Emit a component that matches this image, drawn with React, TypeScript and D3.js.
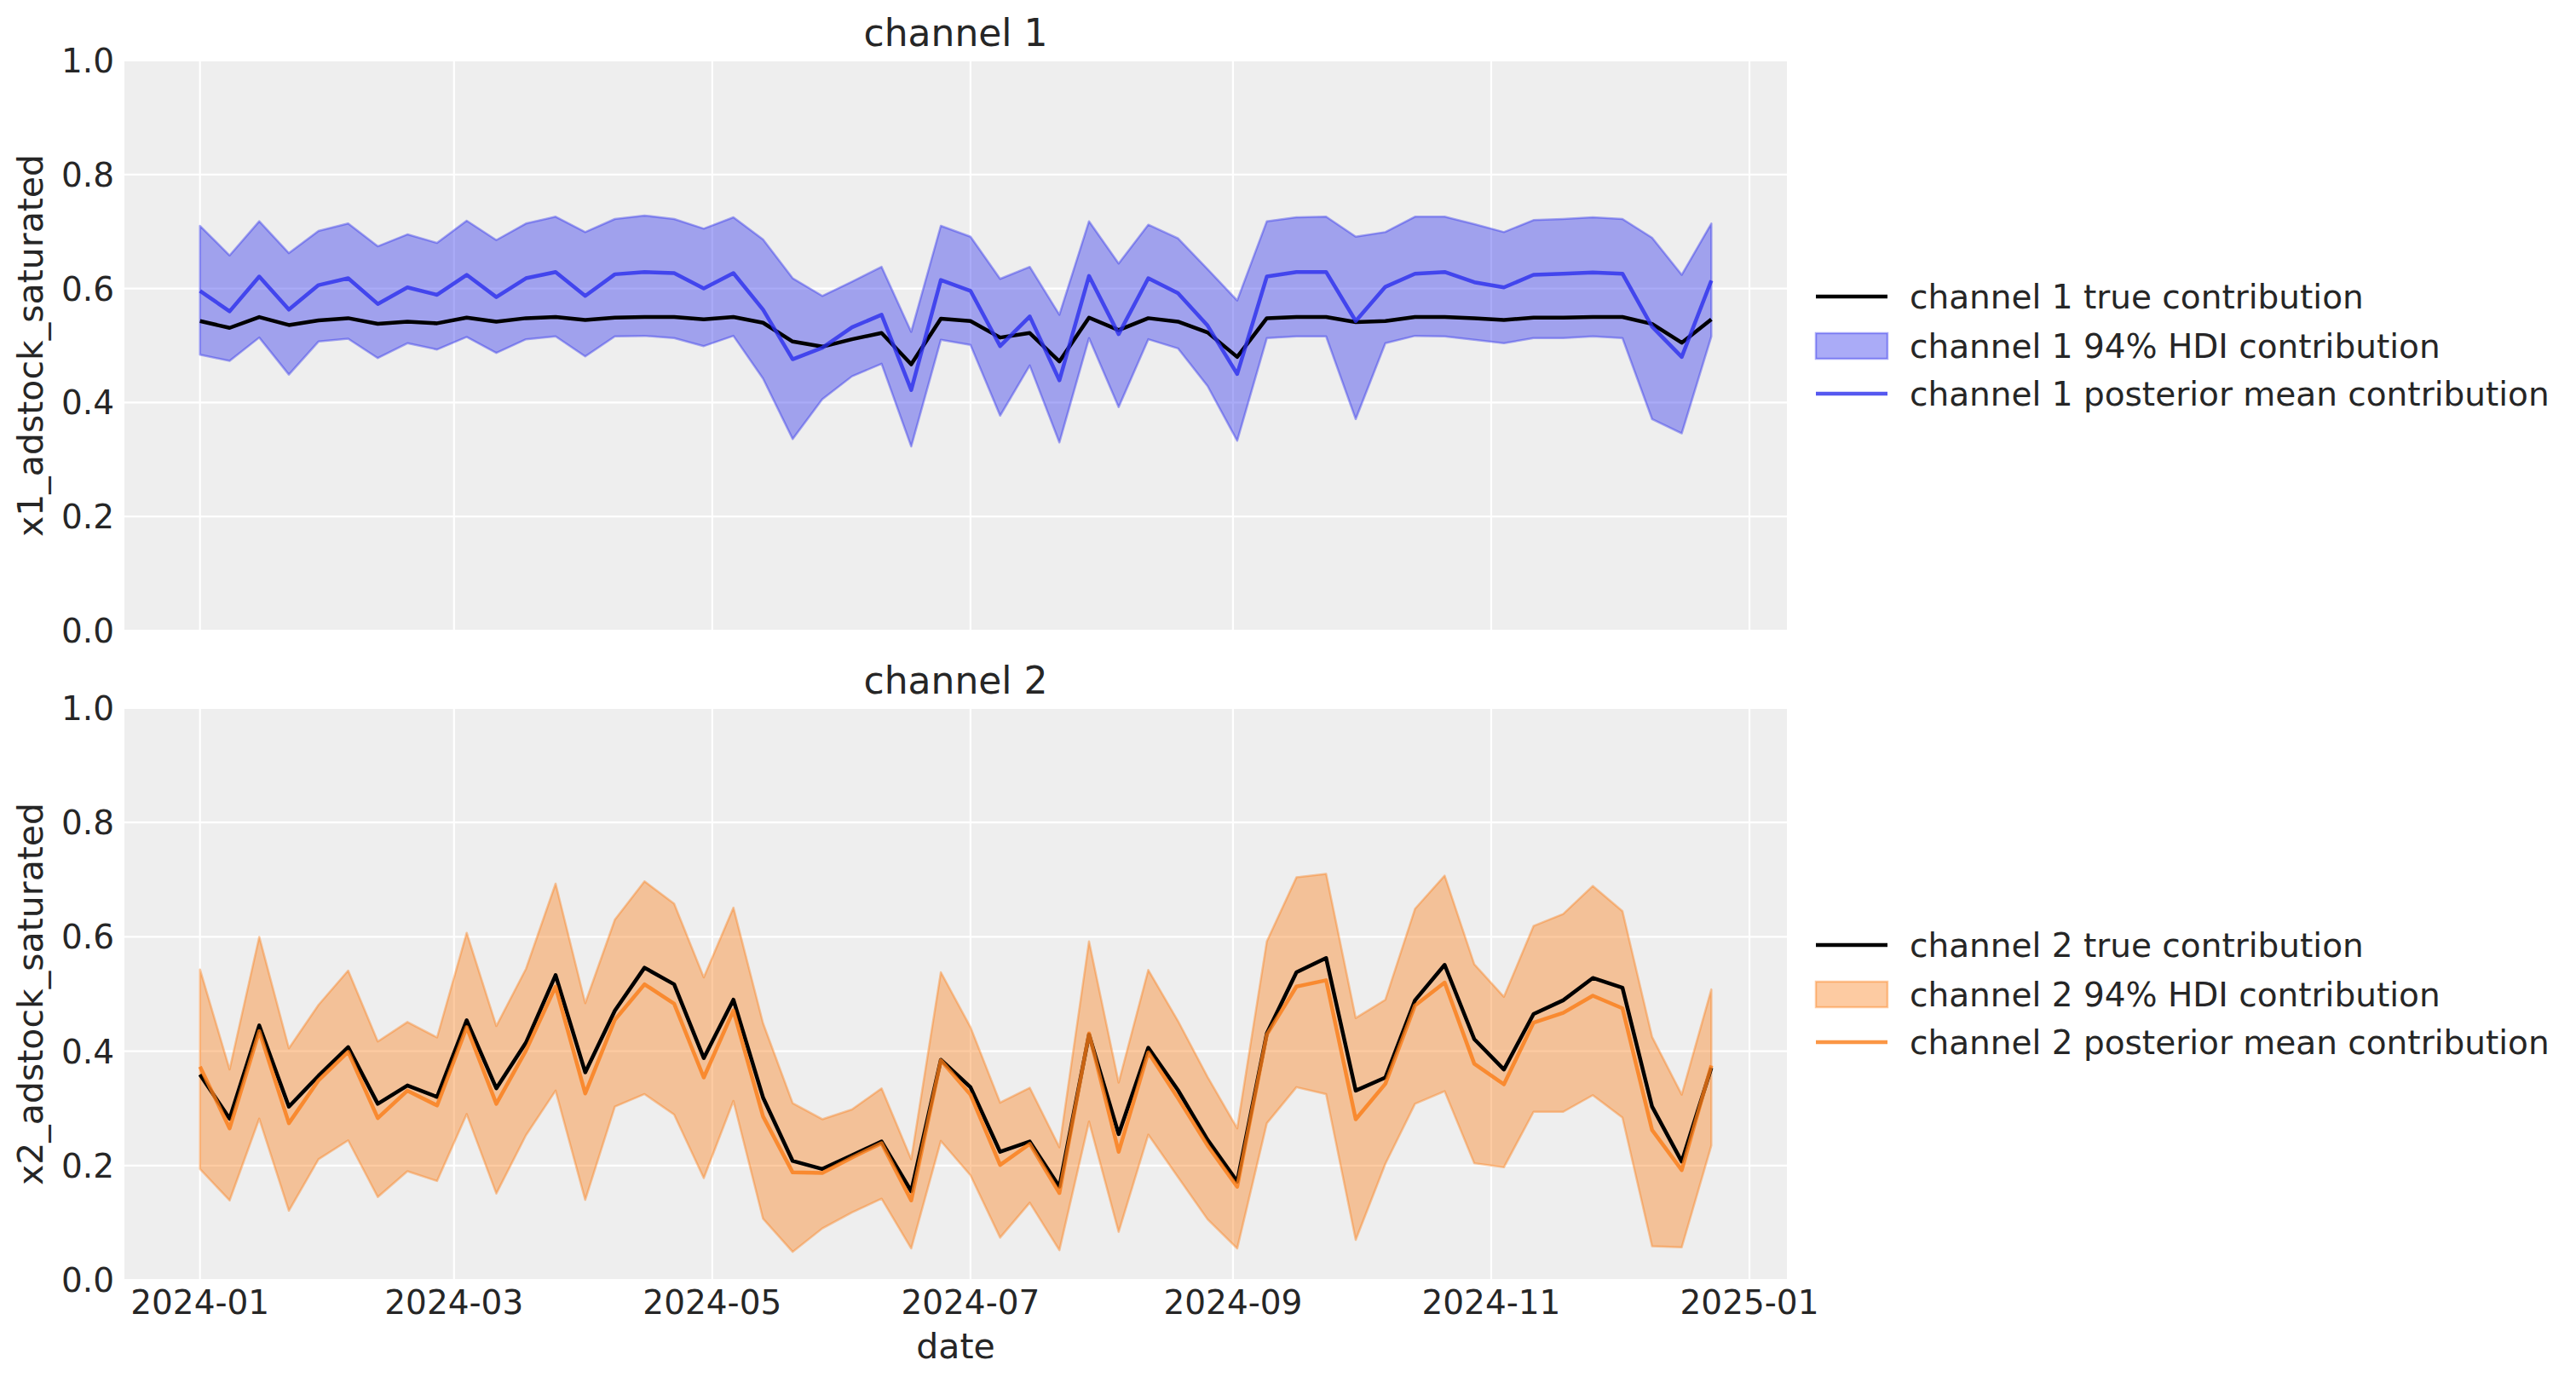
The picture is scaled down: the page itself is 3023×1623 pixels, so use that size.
import * as d3 from "d3";

const W = 3023;
const H = 1623;
const LEFT = 146;
const RIGHT = 2097;
const FONT = "DejaVu Sans, sans-serif";
const TEXT = "#262626";

// weekly dates
const dates = [
  "2024-01-01", "2024-01-08", "2024-01-15", "2024-01-22", "2024-01-29",
  "2024-02-05", "2024-02-12", "2024-02-19", "2024-02-26", "2024-03-04",
  "2024-03-11", "2024-03-18", "2024-03-25", "2024-04-01", "2024-04-08",
  "2024-04-15", "2024-04-22", "2024-04-29", "2024-05-06", "2024-05-13",
  "2024-05-20", "2024-05-27", "2024-06-03", "2024-06-10", "2024-06-17",
  "2024-06-24", "2024-07-01", "2024-07-08", "2024-07-15", "2024-07-22",
  "2024-07-29", "2024-08-05", "2024-08-12", "2024-08-19", "2024-08-26",
  "2024-09-02", "2024-09-09", "2024-09-16", "2024-09-23", "2024-09-30",
  "2024-10-07", "2024-10-14", "2024-10-21", "2024-10-28", "2024-11-04",
  "2024-11-11", "2024-11-18", "2024-11-25", "2024-12-02", "2024-12-09",
  "2024-12-16", "2024-12-23",
];

const ch1True = [
  0.543, 0.531, 0.55, 0.536, 0.544, 0.548, 0.538, 0.542, 0.539, 0.549,
  0.542, 0.548, 0.55, 0.545, 0.549, 0.55, 0.55, 0.546, 0.55, 0.54,
  0.507, 0.498, 0.511, 0.522, 0.467, 0.547, 0.543, 0.514, 0.522, 0.472,
  0.549, 0.527, 0.548, 0.542, 0.523, 0.48, 0.548, 0.55, 0.55, 0.541,
  0.543, 0.55, 0.55, 0.548, 0.545, 0.549, 0.549, 0.55, 0.55, 0.538,
  0.505, 0.546,
];
const ch1Mean = [
  0.596, 0.56, 0.621, 0.563, 0.606, 0.618, 0.573, 0.602, 0.589, 0.624,
  0.585, 0.618, 0.629, 0.587, 0.625, 0.629, 0.627, 0.6, 0.627, 0.563,
  0.476, 0.496, 0.532, 0.554, 0.422, 0.615, 0.596, 0.499, 0.551, 0.439,
  0.622, 0.52, 0.618, 0.592, 0.535, 0.45, 0.621, 0.629, 0.629, 0.543,
  0.603, 0.626, 0.629, 0.611, 0.602, 0.624, 0.626, 0.628, 0.626, 0.533,
  0.48, 0.614,
];
const ch1Upper = [
  0.71, 0.658, 0.718, 0.662, 0.701, 0.714, 0.674, 0.695, 0.68, 0.719,
  0.685, 0.714, 0.726, 0.699, 0.722, 0.728, 0.722, 0.705, 0.725, 0.686,
  0.618, 0.587, 0.612, 0.638, 0.524, 0.71, 0.691, 0.617, 0.638, 0.554,
  0.718, 0.644, 0.712, 0.688, 0.634, 0.579, 0.718, 0.725, 0.726, 0.691,
  0.699, 0.726, 0.726, 0.713, 0.699, 0.72, 0.722, 0.725, 0.722, 0.689,
  0.624, 0.714,
];
const ch1Lower = [
  0.484, 0.473, 0.514, 0.449, 0.507, 0.512, 0.478, 0.504, 0.493, 0.515,
  0.487, 0.511, 0.516, 0.481, 0.516, 0.517, 0.513, 0.499, 0.517, 0.442,
  0.336, 0.406, 0.446, 0.468, 0.323, 0.51, 0.501, 0.377, 0.465, 0.33,
  0.513, 0.392, 0.511, 0.495, 0.429, 0.333, 0.513, 0.516, 0.516, 0.371,
  0.504, 0.517, 0.516, 0.51, 0.504, 0.513, 0.513, 0.516, 0.513, 0.371,
  0.346, 0.516,
];

const ch2True = [
  0.359, 0.282, 0.445, 0.303, 0.357, 0.407, 0.308, 0.34, 0.32, 0.454,
  0.335, 0.415, 0.533, 0.363, 0.471, 0.546, 0.517, 0.388, 0.49, 0.319,
  0.208, 0.194, 0.218, 0.242, 0.155, 0.385, 0.337, 0.224, 0.242, 0.163,
  0.429, 0.255, 0.406, 0.332, 0.245, 0.172, 0.431, 0.538, 0.563, 0.331,
  0.354, 0.489, 0.551, 0.421, 0.368, 0.465, 0.489, 0.528, 0.511, 0.303,
  0.207, 0.371,
];
const ch2Mean = [
  0.373, 0.265, 0.435, 0.274, 0.349, 0.399, 0.283, 0.331, 0.305, 0.442,
  0.308, 0.401, 0.513, 0.326, 0.455, 0.517, 0.483, 0.354, 0.471, 0.286,
  0.188, 0.187, 0.214, 0.239, 0.139, 0.384, 0.324, 0.201, 0.238, 0.152,
  0.431, 0.224, 0.398, 0.318, 0.235, 0.163, 0.429, 0.513, 0.524, 0.281,
  0.343, 0.48, 0.52, 0.378, 0.342, 0.45, 0.467, 0.497, 0.475, 0.262,
  0.192, 0.375,
];
const ch2Upper = [
  0.543, 0.368, 0.6, 0.405, 0.481, 0.541, 0.417, 0.451, 0.424, 0.607,
  0.444, 0.544, 0.693, 0.484, 0.63, 0.697, 0.658, 0.529, 0.651, 0.449,
  0.309, 0.281, 0.298, 0.335, 0.211, 0.538, 0.442, 0.31, 0.336, 0.232,
  0.592, 0.345, 0.542, 0.453, 0.355, 0.265, 0.592, 0.704, 0.71, 0.458,
  0.49, 0.649, 0.707, 0.552, 0.495, 0.619, 0.64, 0.689, 0.645, 0.425,
  0.324, 0.508,
];
const ch2Lower = [
  0.194, 0.139, 0.282, 0.121, 0.211, 0.244, 0.145, 0.19, 0.173, 0.29,
  0.151, 0.253, 0.331, 0.14, 0.303, 0.325, 0.289, 0.178, 0.313, 0.107,
  0.049, 0.09, 0.118, 0.142, 0.055, 0.243, 0.183, 0.074, 0.135, 0.052,
  0.277, 0.084, 0.254, 0.18, 0.106, 0.055, 0.274, 0.337, 0.325, 0.07,
  0.203, 0.308, 0.33, 0.204, 0.197, 0.294, 0.294, 0.323, 0.284, 0.059,
  0.057, 0.235,
];

const yTicks = [0, 0.2, 0.4, 0.6, 0.8, 1.0];

const channels = [
  {
    name: "channel 1",
    ylabel: "x1_adstock_saturated",
    color: "#2a2eec",
    trueVals: ch1True,
    mean: ch1Mean,
    upper: ch1Upper,
    lower: ch1Lower,
    top: 71,
    bottom: 740,
    legendY: [348, 406, 462],
  },
  {
    name: "channel 2",
    ylabel: "x2_adstock_saturated",
    color: "#fa7c17",
    trueVals: ch2True,
    mean: ch2Mean,
    upper: ch2Upper,
    lower: ch2Lower,
    top: 831,
    bottom: 1502,
    legendY: [1109, 1167, 1223],
  },
];

const parsed = dates.map((d) => d3.utcParse("%Y-%m-%d")(d) as Date);
const [d0, d1] = d3.extent(parsed) as [Date, Date];
const pad = (d1.getTime() - d0.getTime()) * 0.05;
const xScale = d3
  .scaleUtc()
  .domain([new Date(d0.getTime() - pad), new Date(d1.getTime() + pad)])
  .range([LEFT, RIGHT]);
const xTicks = xScale.ticks(d3.utcMonth.every(2) as any);
const fmt = d3.utcFormat("%Y-%m");

const Panel = ({ ch, showX }: { ch: (typeof channels)[number]; showX: boolean }) => {
  const y = d3.scaleLinear().domain([0, 1]).range([ch.bottom, ch.top]);
  const idx = d3.range(parsed.length);
  const band = d3
    .area<number>()
    .x((i) => xScale(parsed[i]))
    .y0((i) => y(ch.lower[i]))
    .y1((i) => y(ch.upper[i]));
  const line = (vals: number[]) =>
    d3
      .line<number>()
      .x((i) => xScale(parsed[i]))
      .y((i) => y(vals[i]))(idx) || "";
  const cx = (LEFT + RIGHT) / 2;
  const cy = (ch.top + ch.bottom) / 2;
  const lx0 = 2131;
  const lx1 = 2215;
  const tx = 2241;
  const labels = [
    `${ch.name} true contribution`,
    `${ch.name} 94% HDI contribution`,
    `${ch.name} posterior mean contribution`,
  ];
  return (
    <g fontFamily={FONT} fill={TEXT}>
      <rect x={LEFT} y={ch.top} width={RIGHT - LEFT} height={ch.bottom - ch.top} fill="#eeeeee" />
      {yTicks.map((t) => (
        <line key={"gy" + t} x1={LEFT} x2={RIGHT} y1={y(t)} y2={y(t)} stroke="#ffffff" strokeWidth={2.2} />
      ))}
      {xTicks.map((t) => (
        <line key={"gx" + t.getTime()} x1={xScale(t)} x2={xScale(t)} y1={ch.top} y2={ch.bottom} stroke="#ffffff" strokeWidth={2.2} />
      ))}
      <path
        d={band(idx) || ""}
        fill={ch.color}
        fillOpacity={0.4}
        stroke={ch.color}
        strokeOpacity={0.4}
        strokeWidth={2.5}
        strokeLinejoin="round"
      />
      <path d={line(ch.trueVals)} fill="none" stroke="#000000" strokeWidth={4.5} strokeLinejoin="round" />
      <path d={line(ch.mean)} fill="none" stroke={ch.color} strokeOpacity={0.8} strokeWidth={4.5} strokeLinejoin="round" />

      <text x={cx} y={ch.top - 17} fontSize={44} textAnchor="middle">
        {ch.name}
      </text>
      {yTicks.map((t) => (
        <text key={"ty" + t} x={134} y={y(t)} dy="0.36em" fontSize={39} textAnchor="end">
          {t.toFixed(1)}
        </text>
      ))}
      <text transform={`translate(50,${cy}) rotate(-90)`} fontSize={41} textAnchor="middle">
        {ch.ylabel}
      </text>
      {showX &&
        xTicks.map((t) => (
          <text key={"tx" + t.getTime()} x={xScale(t)} y={1542} fontSize={39} textAnchor="middle">
            {fmt(t)}
          </text>
        ))}
      {showX && (
        <text x={cx} y={1594} fontSize={41} textAnchor="middle">
          date
        </text>
      )}

      <line x1={lx0} x2={lx1} y1={ch.legendY[0]} y2={ch.legendY[0]} stroke="#000000" strokeWidth={4.5} />
      <rect
        x={lx0}
        y={ch.legendY[1] - 15}
        width={lx1 - lx0}
        height={30}
        fill={ch.color}
        fillOpacity={0.4}
        stroke={ch.color}
        strokeOpacity={0.4}
        strokeWidth={2.5}
      />
      <line x1={lx0} x2={lx1} y1={ch.legendY[2]} y2={ch.legendY[2]} stroke={ch.color} strokeOpacity={0.8} strokeWidth={4.5} />
      {labels.map((l, i) => (
        <text key={l} x={tx} y={ch.legendY[i]} dy="0.36em" fontSize={39}>
          {l}
        </text>
      ))}
    </g>
  );
};

export default function App() {
  return (
    <svg
      width={W}
      height={H}
      style={{ position: "absolute", left: 0, top: 0, background: "#ffffff" }}
    >
      <rect width={W} height={H} fill="#ffffff" />
      {channels.map((ch, i) => (
        <Panel key={ch.name} ch={ch} showX={i === 1} />
      ))}
    </svg>
  );
}
